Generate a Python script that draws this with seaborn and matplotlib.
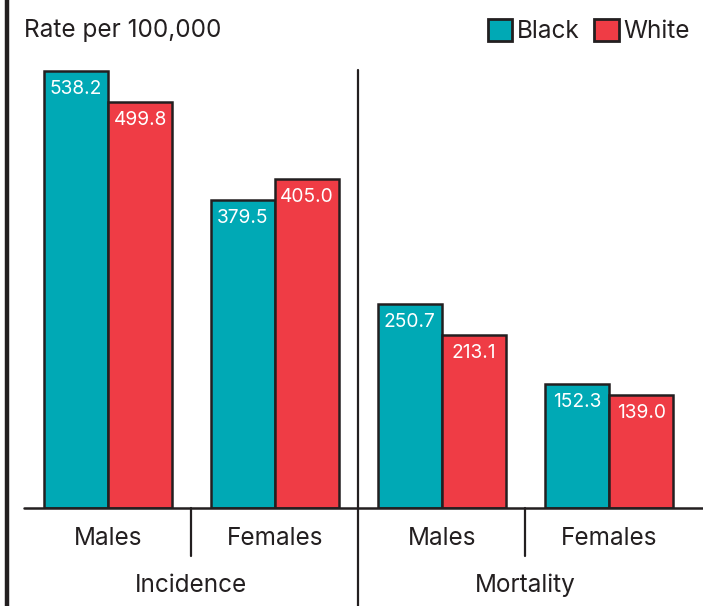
import matplotlib
matplotlib.use("Agg")
import matplotlib.pyplot as plt
import seaborn as sns
import pandas as pd
from matplotlib.lines import Line2D

# Rates per 100,000
groups = ["Incidence", "Incidence", "Mortality", "Mortality"]
sexes = ["Males", "Females", "Males", "Females"]
black_rates = [538.2, 379.5, 250.7, 152.3]
white_rates = [499.8, 405.0, 213.1, 139.0]
races = ["Black", "White"]

TEAL = "#00a9b5"
RED = "#ef3c45"
INK = "#231f20"

rows = []
for i, (g, s) in enumerate(zip(groups, sexes)):
    for race, vals in zip(races, [black_rates, white_rates]):
        rows.append({"slot": f"{g} {s}", "race": race, "rate": vals[i]})
df = pd.DataFrame(rows)
order = [f"{g} {s}" for g, s in zip(groups, sexes)]

sns.set_theme(style="white")
plt.rcParams["font.family"] = ["Inter", "DejaVu Sans"]

fig = plt.figure(figsize=(7.03, 6.06), dpi=100)
W, H = 703, 606
ax = fig.add_axes([24 / W, 1 - 508 / H, (703 - 24) / W, (508 - 40) / H])

sns.barplot(data=df, x="slot", y="rate", hue="race", order=order,
            hue_order=races, palette=[TEAL, RED], width=0.772,
            edgecolor=INK, linewidth=1.8, saturation=1, ax=ax)

ax.set_xlim(-0.503, 3.563)
ax.set_ylim(0, 576)
for sp in ax.spines.values():
    sp.set_visible(False)
ax.set_xticks([])
ax.set_yticks([])
ax.set_xlabel("")
ax.set_ylabel("")

FS = 17.5

# value labels inside the top of each bar
for cont in ax.containers:
    for bar in cont:
        h = bar.get_height()
        ax.annotate(f"{h:.1f}", (bar.get_x() + bar.get_width() / 2, h),
                    xytext=(0, -6.5), textcoords="offset points",
                    ha="center", va="top", color="white", fontsize=13.8)

# baseline
ax.axhline(0, color=INK, lw=1.8, clip_on=False, zorder=5)

px = 0.812  # pixels per unit
def ydat(py):
    return (508 - py) / px

# dividers
for xd in [0.5, 2.5]:
    ax.add_line(Line2D([xd, xd], [0, ydat(556)], color=INK, lw=1.6, clip_on=False))
ax.add_line(Line2D([1.5, 1.5], [ydat(70), ydat(606)], color=INK, lw=1.6, clip_on=False))

# category labels
for i, s in enumerate(sexes):
    ax.text(i, ydat(538), s, ha="center", va="center", fontsize=FS, color=INK)
ax.text(0.5, ydat(585), "Incidence", ha="center", va="center", fontsize=FS, color=INK)
ax.text(2.5, ydat(585), "Mortality", ha="center", va="center", fontsize=FS, color=INK)

# left rule
fig.add_artist(Line2D([7 / W, 7 / W], [0, 1], color=INK, lw=3.2))

fig.text(24 / W, 1 - 31 / H, "Rate per 100,000", ha="left", va="center",
         fontsize=FS, color=INK)

leg = ax.legend(loc="center right", bbox_to_anchor=(690 / W, 1 - 31 / H),
                bbox_transform=fig.transFigure, ncol=2, frameon=False,
                fontsize=FS, handlelength=1.0, handleheight=1.0,
                handletextpad=0.2, columnspacing=0.6, borderpad=0,
                borderaxespad=0)
for t in leg.get_texts():
    t.set_color(INK)
for p in leg.get_patches():
    p.set_linewidth(2.0)

fig.savefig("out.png", dpi=100)
